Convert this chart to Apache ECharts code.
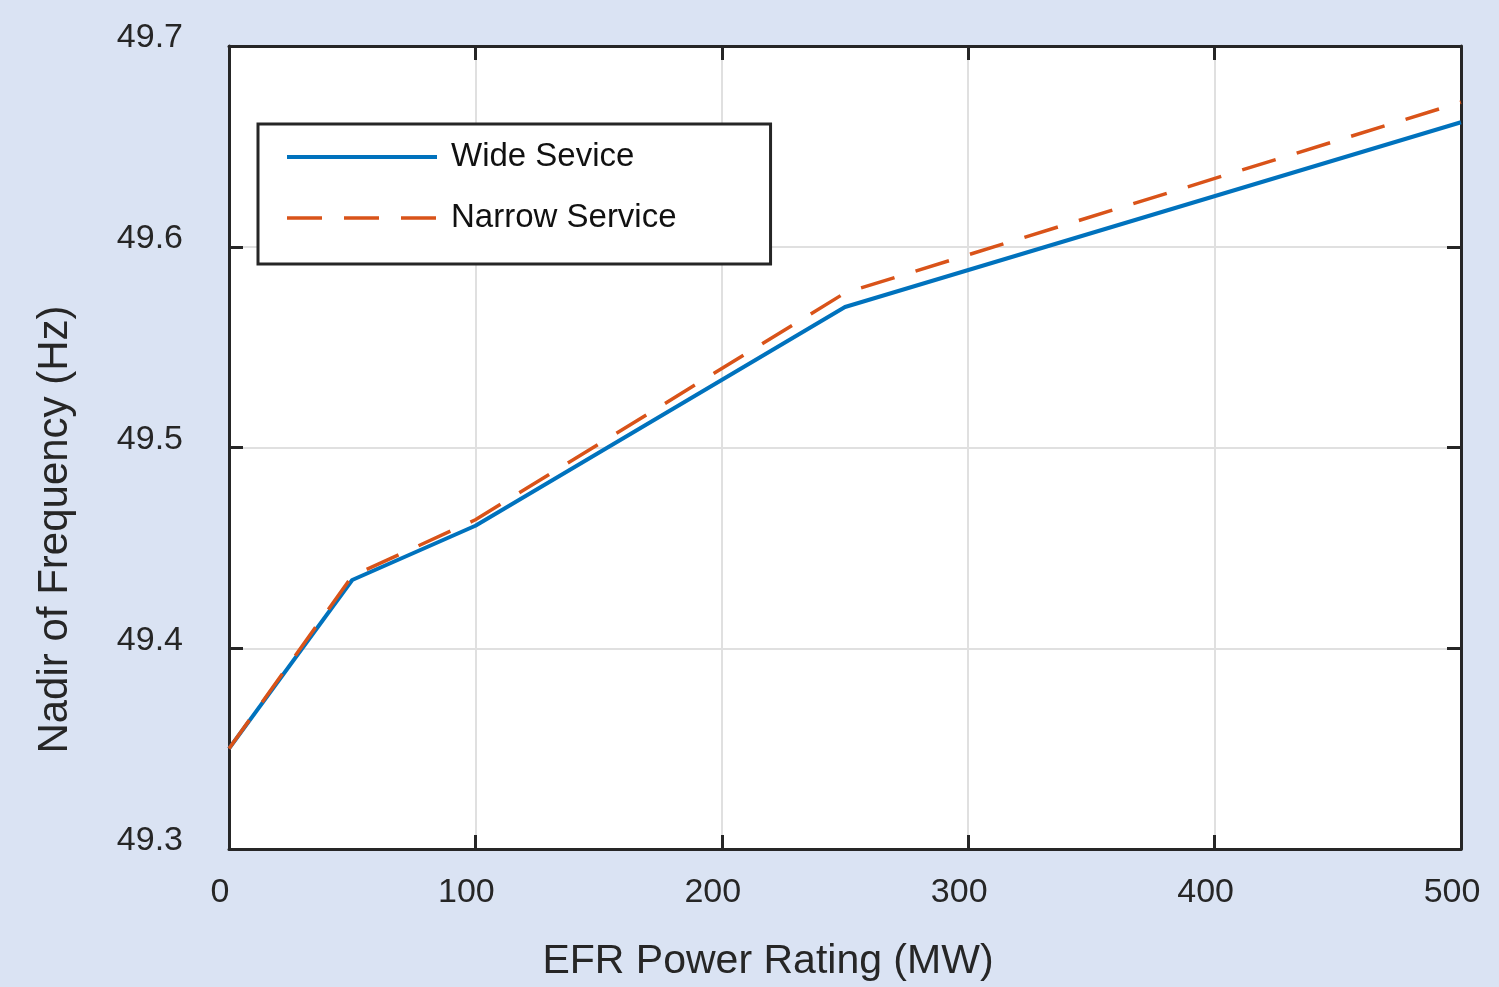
<!DOCTYPE html>
<html>
<head>
<meta charset="utf-8">
<title>Nadir of Frequency vs EFR Power Rating</title>
<script src="https://cdn.jsdelivr.net/npm/echarts@6/dist/echarts.min.js"></script>
<style>
  html, body { margin: 0; padding: 0; background: #dae3f3; }
  #chart { width: 1499px; height: 987px; }
</style>
</head>
<body>
<div id="chart"></div>
<script>
// EFR power rating (MW) at the break points of each curve
const powerRating = [0, 50, 100, 250, 500];
// frequency nadir (Hz)
const wideService = [49.35, 49.434, 49.461, 49.57, 49.662];
const narrowService = [49.35, 49.436, 49.464, 49.577, 49.672];

const xTicks = [0, 100, 200, 300, 400, 500];
const yTicks = [49.3, 49.4, 49.5, 49.6, 49.7];

const textColor = "#262626";
const fontFamily = "'Liberation Sans', Arial, sans-serif";
const blue = "#0072bd";
const orange = "#d95319";

const chart = echarts.init(document.getElementById("chart"));

const pairs = (xs, ys) => xs.map((x, i) => [x, ys[i]]);

const frameLine = { show: true, onZero: false, lineStyle: { color: textColor, width: 3 } };
const tickStyle = { inside: true, length: 14, lineStyle: { color: textColor, width: 3 } };

// top / right copies of the axes: only the box edge and inward ticks
const hiddenAxis = {
  axisLine: frameLine,
  axisLabel: { show: false },
  splitLine: { show: false },
  axisTick: tickStyle,
};

const option = {
  backgroundColor: "#dae3f3",
  animation: false,
  textStyle: { fontFamily: fontFamily, color: textColor },
  grid: {
    left: 229,
    top: 46,
    right: 38,
    bottom: 136,
    show: true,
    backgroundColor: "#ffffff",
    borderWidth: 0,
  },
  legend: {
    orient: "vertical",
    left: 258,
    top: 124,
    data: [
      { name: "Wide Sevice", lineStyle: { width: 4 } },
      { name: "Narrow Service", lineStyle: { width: 3.5 } },
    ],
    itemWidth: 150,
    itemHeight: 2,
    itemGap: 21,
    padding: [13, 94, 26, 27],
    borderColor: textColor,
    borderWidth: 3,
    backgroundColor: "#ffffff",
    textStyle: {
      fontSize: 33,
      color: "#111111",
      lineHeight: 40,
      padding: [0, 0, 0, 9],
      fontFamily: fontFamily,
    },
  },
  xAxis: [
    {
      type: "value",
      min: 0,
      max: 500,
      interval: 100,
      name: "EFR Power Rating (MW)",
      nameLocation: "middle",
      nameGap: 92,
      nameTextStyle: { fontSize: 41, color: textColor, padding: [0, 154, 0, 0] },
      axisLine: frameLine,
      axisTick: tickStyle,
      axisLabel: {
        fontSize: 34,
        color: textColor,
        margin: 27,
        padding: [0, 18, 0, 0],
        formatter: (v) => (xTicks.includes(v) ? String(v) : ""),
      },
      splitLine: { show: true, lineStyle: { color: "#e0e0e0", width: 2 } },
    },
    Object.assign({ type: "value", min: 0, max: 500, interval: 100, position: "top" }, hiddenAxis),
  ],
  yAxis: [
    {
      type: "value",
      min: 49.3,
      max: 49.7,
      interval: 0.1,
      name: "Nadir of Frequency (Hz)",
      nameLocation: "middle",
      nameGap: 153,
      nameTextStyle: { fontSize: 42, color: textColor, padding: [0, 164, 0, 0] },
      axisLine: frameLine,
      axisTick: tickStyle,
      axisLabel: {
        fontSize: 34,
        color: textColor,
        margin: 46,
        verticalAlign: "bottom",
        lineHeight: 16,
        formatter: (v) => (yTicks.some((t) => Math.abs(t - v) < 1e-6) ? v.toFixed(1) : ""),
      },
      splitLine: { show: true, lineStyle: { color: "#e0e0e0", width: 2 } },
    },
    Object.assign({ type: "value", min: 49.3, max: 49.7, interval: 0.1, position: "right" }, hiddenAxis),
  ],
  series: [
    {
      name: "Wide Sevice",
      type: "line",
      symbol: "none",
      data: pairs(powerRating, wideService),
      itemStyle: { color: blue },
      lineStyle: { color: blue, width: 4 },
      z: 2,
    },
    {
      name: "Narrow Service",
      type: "line",
      symbol: "none",
      data: pairs(powerRating, narrowService),
      itemStyle: { color: orange },
      lineStyle: { color: orange, width: 3.5, type: [35, 22] },
      z: 3,
    },
  ],
};

chart.setOption(option);
</script>
</body>
</html>
